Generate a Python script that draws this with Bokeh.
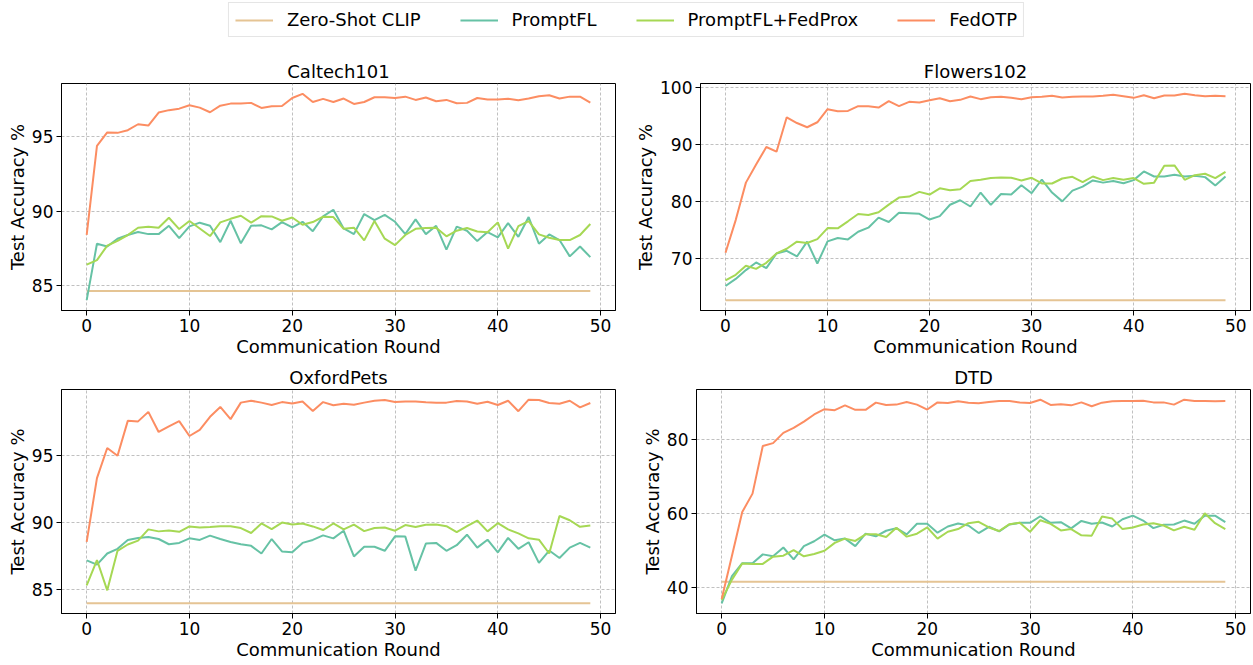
from bokeh.plotting import figure
from bokeh.models import Range1d, FixedTicker, Legend, LegendItem
from bokeh.layouts import column, row
from bokeh.embed import file_html
from bokeh.resources import INLINE

rounds = list(range(50))
x_ticks = [0, 10, 20, 30, 40, 50]
series_names = ["Zero-Shot CLIP", "PromptFL", "PromptFL+FedProx", "FedOTP"]
series_colors = ["#e5c494", "#66c2a5", "#a6d854", "#fc8d62"]

# ---- Caltech101 ----
caltech_zs = 84.62
caltech_promptfl = [84.0, 87.8, 87.62, 88.14, 88.39, 88.59, 88.45, 88.45, 89.01, 88.18,
                    88.97, 89.22, 89.01, 87.91, 89.35, 87.83, 89.01, 89.04, 88.77, 89.26,
                    88.9, 89.28, 88.65, 89.64, 90.09, 88.83, 88.45, 89.8, 89.39, 89.75,
                    89.28, 88.45, 89.44, 88.45, 89.01, 87.4, 88.95, 88.68, 87.98, 88.59,
                    88.23, 89.19, 88.27, 89.6, 87.8, 88.43, 88.05, 86.95, 87.62, 86.9]
caltech_fedprox = [86.39, 86.7, 87.67, 88.0, 88.39, 88.88, 88.95, 88.88, 89.55, 88.79,
                   89.33, 88.83, 88.32, 89.24, 89.48, 89.69, 89.22, 89.66, 89.64, 89.35,
                   89.57, 89.08, 89.26, 89.62, 89.6, 88.81, 88.88, 88.03, 89.33, 88.14,
                   87.71, 88.39, 88.81, 88.86, 88.88, 88.3, 88.68, 88.86, 88.63, 88.57,
                   89.24, 87.47, 88.99, 89.33, 88.43, 88.21, 88.05, 88.05, 88.39, 89.13]
caltech_fedotp = [88.4, 94.4, 95.3, 95.27, 95.45, 95.85, 95.76, 96.64, 96.8, 96.9,
                  97.13, 96.97, 96.66, 97.1, 97.24, 97.24, 97.29, 96.95, 97.06, 97.08,
                  97.62, 97.9, 97.35, 97.56, 97.35, 97.58, 97.22, 97.35, 97.67, 97.67,
                  97.62, 97.71, 97.49, 97.65, 97.4, 97.49, 97.26, 97.29, 97.62, 97.51,
                  97.51, 97.56, 97.47, 97.58, 97.74, 97.8, 97.58, 97.71, 97.71, 97.31]
caltech_yticks = [85, 90, 95]

# ---- Flowers102 ----
flowers_zs = 62.6
flowers_promptfl = [65.1, 66.35, 67.9, 69.24, 68.24, 70.83, 71.3, 70.3, 72.9, 69.06,
                    72.95, 73.54, 73.3, 74.66, 75.37, 77.14, 76.37, 78.0, 77.9, 77.8,
                    76.8, 77.4, 79.4, 80.2, 79.1, 81.56, 79.38, 81.3, 81.2, 82.85,
                    81.44, 83.85, 81.56, 80.0, 81.9, 82.6, 83.68, 83.3, 83.6, 83.2,
                    83.74, 85.27, 84.38, 84.38, 84.68, 84.38, 84.5, 84.27, 82.8, 84.38]
flowers_fedprox = [66.1, 67.06, 68.65, 68.12, 69.18, 70.83, 71.66, 72.9, 72.66, 73.36,
                   75.3, 75.25, 76.49, 77.78, 77.6, 78.08, 79.43, 80.67, 80.85, 81.67,
                   81.2, 82.3, 81.97, 82.14, 83.6, 83.8, 84.1, 84.2, 84.15, 83.68,
                   84.15, 83.15, 83.15, 84.03, 84.33, 83.38, 84.38, 83.74, 84.1, 83.8,
                   84.1, 83.09, 83.3, 86.27, 86.33, 83.8, 84.62, 84.86, 84.1, 85.2]
flowers_fedotp = [70.95, 76.7, 83.3, 86.5, 89.57, 88.75, 94.81, 93.8, 93.05, 93.93,
                  96.23, 95.88, 95.93, 96.76, 96.76, 96.52, 97.64, 96.76, 97.53, 97.41,
                  97.82, 98.17, 97.64, 97.88, 98.47, 98.0, 98.35, 98.41, 98.23, 98.0,
                  98.35, 98.41, 98.59, 98.29, 98.41, 98.47, 98.47, 98.59, 98.76, 98.53,
                  98.23, 98.7, 98.17, 98.64, 98.64, 98.94, 98.7, 98.53, 98.59, 98.53]
flowers_yticks = [70, 80, 90, 100]

# ---- OxfordPets ----
oxford_zs = 83.98
oxford_promptfl = [87.19, 86.87, 87.7, 88.05, 88.71, 88.86, 88.93, 88.78, 88.39, 88.49,
                   88.83, 88.71, 89.03, 88.78, 88.56, 88.39, 88.27, 87.7, 88.78, 87.85,
                   87.8, 88.49, 88.71, 89.05, 88.83, 89.4, 87.48, 88.2, 88.2, 87.9,
                   88.98, 88.96, 86.42, 88.44, 88.49, 87.9, 88.32, 89.1, 88.14, 88.73,
                   87.78, 88.86, 88.05, 88.54, 87.0, 87.92, 87.36, 88.14, 88.49, 88.14]
oxford_fedprox = [85.32, 87.21, 84.95, 87.9, 88.37, 88.66, 89.5, 89.35, 89.42, 89.32,
                  89.72, 89.64, 89.67, 89.74, 89.74, 89.6, 89.23, 89.94, 89.52, 90.01,
                  89.86, 89.94, 89.72, 89.45, 89.94, 89.5, 89.86, 89.37, 89.6, 89.64,
                  89.4, 89.82, 89.67, 89.84, 89.86, 89.74, 89.3, 89.74, 90.16, 89.35,
                  89.96, 89.5, 89.2, 88.83, 88.73, 87.7, 90.5, 90.18, 89.69, 89.79]
oxford_fedotp = [88.56, 93.33, 95.57, 95.0, 97.6, 97.56, 98.27, 96.77, 97.19, 97.58,
                 96.47, 96.92, 97.9, 98.64, 97.73, 98.96, 99.1, 98.96, 98.78, 99.0,
                 98.9, 99.05, 98.34, 99.0, 98.76, 98.88, 98.8, 98.96, 99.1, 99.15,
                 99.0, 99.05, 99.05, 98.98, 98.96, 98.96, 99.08, 99.05, 98.88, 99.03,
                 98.78, 99.1, 98.32, 99.18, 99.15, 98.93, 98.88, 99.1, 98.6, 98.93]
oxford_yticks = [85, 90, 95]

# ---- DTD ----
dtd_zs = 41.6
dtd_promptfl = [35.76, 43.12, 46.58, 46.58, 48.97, 48.44, 50.83, 47.64, 51.19, 52.52,
                54.3, 52.78, 53.23, 51.19, 54.56, 53.85, 55.35, 56.06, 54.38, 57.22,
                57.22, 54.82, 56.5, 57.3, 56.77, 54.73, 56.42, 55.18, 57.04, 57.48,
                57.48, 59.26, 57.48, 57.66, 55.98, 58.0, 57.22, 57.57, 56.5, 58.45,
                59.43, 58.1, 56.06, 56.95, 57.04, 58.1, 57.22, 59.43, 59.43, 57.66]
dtd_fedprox = [36.65, 42.15, 46.49, 46.4, 46.4, 48.35, 48.62, 50.12, 48.44, 49.06,
               49.95, 52.07, 53.23, 52.6, 54.38, 54.38, 53.67, 56.15, 53.76, 54.56,
               56.24, 53.23, 55.09, 55.8, 57.39, 57.75, 56.24, 55.27, 57.13, 57.48,
               55.09, 58.19, 57.22, 55.44, 55.8, 54.12, 54.03, 59.17, 58.63, 55.8,
               56.24, 57.04, 57.39, 56.77, 55.44, 56.42, 55.62, 60.05, 57.39, 55.8]
dtd_fedotp = [36.9, 48.6, 60.4, 65.37, 78.23, 79.0, 81.77, 83.1, 84.8, 86.74,
              88.16, 87.9, 89.2, 87.98, 87.98, 89.93, 89.3, 89.4, 90.1, 89.4,
              88.07, 90.0, 89.84, 90.28, 89.93, 89.75, 90.1, 90.37, 90.37, 90.0,
              89.84, 90.73, 89.3, 89.5, 89.2, 90.0, 88.95, 89.93, 90.28, 90.37,
              90.37, 90.46, 90.0, 90.0, 89.4, 90.73, 90.37, 90.37, 90.28, 90.37]
dtd_yticks = [40, 60, 80]

FONT = "DejaVu Sans"


def make_panel(title, zs, pfl, prox, otp, yticks, width, height, bl, br, bt, bb):
    zs_line = [zs] * len(rounds)
    allv = zs_line + pfl + prox + otp
    lo, hi = min(allv), max(allv)
    pad = 0.05 * (hi - lo)
    xpad = 0.05 * (rounds[-1] - rounds[0])
    p = figure(width=width, height=height, title=title,
               x_range=Range1d(rounds[0] - xpad, rounds[-1] + xpad),
               y_range=Range1d(lo - pad, hi + pad),
               output_backend="svg", toolbar_location=None,
               min_border_left=bl, min_border_right=br,
               min_border_top=bt, min_border_bottom=bb)
    p.title.text_font = FONT
    p.title.text_font_size = "18px"
    p.title.text_font_style = "normal"
    p.title.align = "center"
    p.title.text_color = "black"
    p.title.standoff = 3
    p.xaxis.ticker = FixedTicker(ticks=x_ticks)
    p.yaxis.ticker = FixedTicker(ticks=yticks)
    p.xaxis.axis_label = "Communication Round"
    p.yaxis.axis_label = "Test Accuracy %"
    for ax in [p.xaxis[0], p.yaxis[0]]:
        ax.axis_label_text_font = FONT
        ax.axis_label_text_font_size = "18px"
        ax.axis_label_text_font_style = "normal"
        ax.axis_label_text_color = "black"
        ax.axis_label_standoff = 1
        ax.major_label_text_font = FONT
        ax.major_label_text_font_size = "17px"
        ax.major_label_text_color = "black"
        ax.major_label_standoff = 3
        ax.major_tick_out = 5
        ax.major_tick_in = 0
        ax.minor_tick_line_color = None
        ax.axis_line_color = "black"
        ax.major_tick_line_color = "black"
    p.grid.grid_line_color = "#b0b0b0"
    p.grid.grid_line_dash = "3 2"
    p.grid.grid_line_width = 0.8
    p.outline_line_color = "black"
    p.outline_line_width = 1
    p.outline_line_alpha = 1
    for vals, col in zip([zs_line, pfl, prox, otp], series_colors):
        p.line(rounds, vals, line_color=col, line_width=2)
    return p


f1 = make_panel("Caltech101", caltech_zs, caltech_promptfl, caltech_fedprox, caltech_fedotp,
                caltech_yticks, 632, 322, 61, 17, 43, 52)
f2 = make_panel("Flowers102", flowers_zs, flowers_promptfl, flowers_fedprox, flowers_fedotp,
                flowers_yticks, 620, 322, 64, 2, 43, 52)
f3 = make_panel("OxfordPets", oxford_zs, oxford_promptfl, oxford_fedprox, oxford_fedotp,
                oxford_yticks, 632, 300, 61, 17, 27, 45)
f4 = make_panel("DTD", dtd_zs, dtd_promptfl, dtd_fedprox, dtd_fedotp,
                dtd_yticks, 620, 300, 64, 2, 27, 45)

# legend strip on top (its sample lines lie outside the visible range)
lf = figure(width=1252, height=40, output_backend="svg", toolbar_location=None,
            x_range=Range1d(0, 1), y_range=Range1d(0, 1),
            x_axis_location=None, y_axis_location=None, min_border=0)
lf.grid.visible = False
lf.outline_line_color = None
items = []
for name, col in zip(series_names, series_colors):
    r = lf.line(x=[5, 6], y=[5, 5], line_color=col, line_width=2)
    items.append(LegendItem(label=name, renderers=[r]))
legend = Legend(items=items, orientation="horizontal", location="top_center",
                label_text_font=FONT, label_text_font_size="18px", label_text_color="black",
                glyph_width=38, glyph_height=20, label_height=20, label_standoff=14,
                spacing=39, padding=6, margin=2,
                border_line_color="#cccccc", border_line_width=1,
                background_fill_color="white", background_fill_alpha=1)
lf.add_layout(legend, "center")

layout = column(lf, row(f1, f2), row(f3, f4))
open("out.html", "w").write(file_html(layout, INLINE))
